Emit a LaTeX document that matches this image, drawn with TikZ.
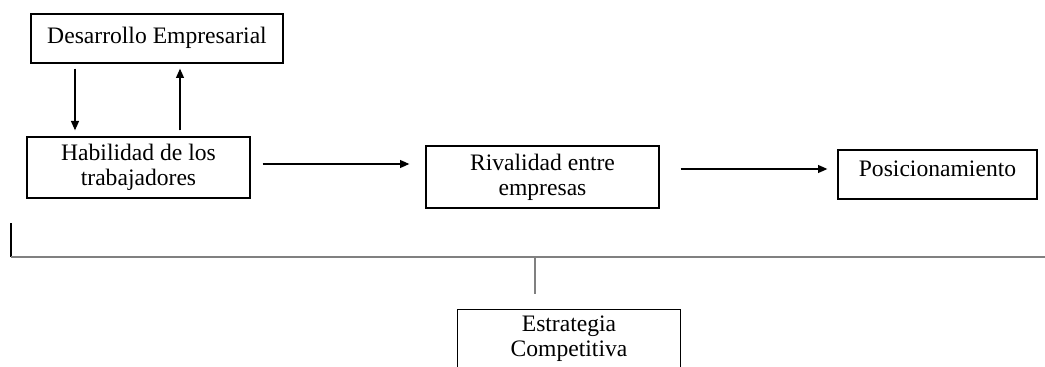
\documentclass[tikz,border=0pt]{standalone}
\usepackage{fontspec}
\setmainfont{Liberation Serif}
\usetikzlibrary{arrows.meta}
\tikzset {
  % boxed stage of the model
  stage/.style = {
    draw = black,
    line width = 1pt,
    align = center,
    inner sep = 0,
    font = \fontsize{17.7}{18.5}\selectfont
  },
  % path style with an arrow at the end
  arr/.style = {
    draw = black,
    line width = 0.8pt,
    -{Triangle[length=7pt,width=6pt]}
  },
  % grey bracket lines with no arrows
  narr/.style = {
    draw = gray,
    line width = 1.8pt
  }
}

\begin{document}
\begin{tikzpicture}[x=0.75pt, y=-0.75pt]
    \useasboundingbox (0,0) rectangle (1045,367);

    \node[stage, minimum width=189pt, minimum height=36.75pt, text depth=5pt] (desarrollo) at (157,38.5) {Desarrollo Empresarial};
    \node[stage, minimum width=167.25pt, minimum height=45.75pt] (habilidad) at (138.5,167.5) {Habilidad de los\\trabajadores};
    \node[stage, minimum width=174.75pt, minimum height=46.5pt] (rivalidad) at (542.5,177) {Rivalidad entre\\empresas};
    \node[stage, minimum width=149.25pt, minimum height=36.75pt, text depth=9pt] (posicion) at (937.5,174.5) {Posicionamiento};
    \node[stage, draw=none, minimum width=166.5pt, minimum height=42.75pt] (estrategia) at (569,338.5) {Estrategia\\Competitiva};
    \draw[line width=1pt] (estrategia.south west)
      |- (estrategia.north east)
      -- (estrategia.south east);

    \coordinate (down) at (75,0);
    \coordinate (up) at (180,0);
    \coordinate (bracket) at (11,257);
    \coordinate (bracket end) at (1045,257);
    \coordinate (stem) at (535,257);

    \draw[arr, shorten <=3.75pt, shorten >=4.5pt] (down |- desarrollo.south) -- (down |- habilidad.north);
    \draw[arr, shorten <=4.5pt, shorten >=3.75pt] (up |- habilidad.north) -- (up |- desarrollo.south);

    \draw[arr, shorten <=9pt, shorten >=12pt] (habilidad.east |- 0,164) -- (rivalidad.west |- 0,164);
    \draw[arr, shorten <=15.75pt, shorten >=7.5pt] (rivalidad.east |- 0,169) -- (posicion.west |- 0,169);

    \draw[line width=1pt] (bracket) -- ++(0,-34);
    \draw[narr] (bracket) -- (bracket end);
    \draw[narr] (stem) -- ++(0,37);
\end{tikzpicture}
\end{document}
